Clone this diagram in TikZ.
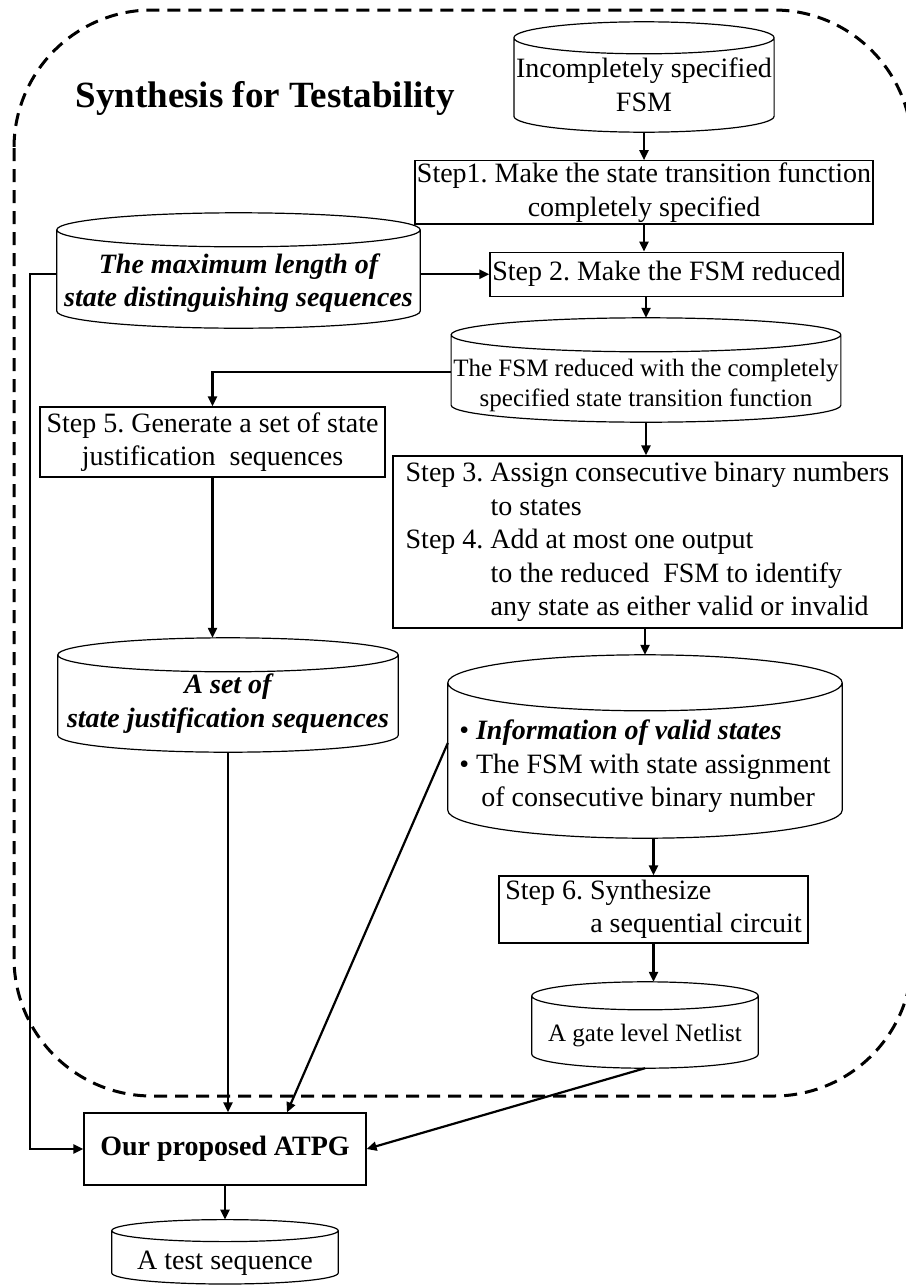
\documentclass[tikz,border=0pt]{standalone}
\usepackage{fontspec}
\setmainfont{Liberation Serif}
\usetikzlibrary{arrows.meta, positioning, calc}
\frenchspacing
\newcommand{\bodysize}{\fontsize{28}{33.5}\selectfont}
\newcommand{\notesize}{\fontsize{25}{30}\selectfont}

\begin{document}
\begin{tikzpicture}[
        x=1pt, y=1pt,
        font=\bodysize,
        >={Triangle[length=10pt, width=9pt]},
        box/.style={draw, line width=1.2pt, inner sep=2pt, align=center},
        drum/.style={inner sep=2pt, align=center},
        link/.style={->, line width=2.2pt}
    ]
    \useasboundingbox (0,0) rectangle (905,-1285);

    % synthesis for testability region
    \draw[line width=3pt, dash pattern=on 13pt off 8pt, rounded corners=138pt] (14,-10) rectangle (912,-1096);
    \node[anchor=base west, font=\fontsize{37}{44}\selectfont\bfseries] (title) at (72,-107) {Synthesis for Testability};

    \node[drum, minimum width=258pt, minimum height=94pt] (isfsm) at (644,-85) {Incompletely specified\\FSM};
    \node[box, minimum width=458pt, minimum height=61pt, below=28pt of isfsm] (step1) {Step1. Make the state transition function\\completely specified};
    \node[box, minimum width=353pt, minimum height=44pt, below=27pt of step1, xshift=22.5pt] (step2) {Step 2. Make the FSM reduced};
    \node[drum, minimum width=363pt, minimum height=98pt, font=\bodysize\bfseries\itshape] (maxlen) at (238.5,-283) {The maximum length of\\state distinguishing sequences};
    \node[drum, minimum width=388pt, minimum height=87pt, font=\notesize] (redfsm) at (646,-385.5) {The FSM reduced with the completely\\specified state transition function};
    \node[box, minimum width=345pt, minimum height=70pt] (step5) at (212.5,-442) {Step 5. Generate a set of state\\justification~ sequences};
    \node[box, minimum width=509pt, minimum height=172pt, align=left] (step34) at (647.5,-542) {Step 3. Assign consecutive binary numbers\\\hspace*{85pt}to states\\Step 4. Add at most one output\\\hspace*{85pt}to the reduced~ FSM to identify\\\hspace*{85pt}any state as either valid or invalid};
    \node[drum, minimum width=340pt, minimum height=97pt, font=\bodysize\bfseries\itshape] (setjs) at (228,-703.5) {A set of\\state justification sequences};
    \node[drum, minimum width=394pt, minimum height=155pt, align=left] (info) at (645,-766.5) {• \textbf{\textit{Information of valid states}}\\• The FSM with state assignment\\\hspace*{22pt}of consecutive binary number};
    \node[box, minimum width=309pt, minimum height=67pt, align=left] (step6) at (653.5,-909.5) {Step 6. Synthesize\\\hspace*{85pt}a sequential circuit};
    \node[drum, minimum width=226pt, minimum height=72pt, font=\notesize] (netlist) at (645,-1036) {A gate level Netlist};

    % outside the region
    \node[box, minimum width=282pt, minimum height=72pt, font=\bodysize\bfseries] (atpg) at (225,-1149) {Our proposed ATPG};
    \node[drum, minimum width=226pt, minimum height=53pt, below=51pt of atpg] (testseq) {A test sequence};

    % cylinder outlines (drawn \dy above the text box)
    \foreach \nm/\rr/\dy in {isfsm/16/0, maxlen/17/4, redfsm/17/7, setjs/17/0, info/28/6, netlist/14/4, testseq/11/6} {
        \draw[line width=1.2pt] let \p1=(\nm.north west), \p2=(\nm.south east) in
            (\x1,\y1+\dy) -- (\x1,\y2+\rr+\dy) arc[start angle=180, end angle=360, x radius={(\x2-\x1)/2}, y radius=\rr pt]
            -- (\x2,\y1+\dy) arc[start angle=0, end angle=360, x radius={(\x2-\x1)/2}, y radius=\rr pt];
        \coordinate (\nm-top) at ($(\nm.north)+(0,\rr+\dy)$);
        \coordinate (\nm-bot) at ($(\nm.south)+(0,\dy)$);
    }

    \draw[link] (isfsm-bot) -- (isfsm-bot |- step1.north);
    \draw[link] (step1.south) -- (step1.south |- step2.north);
    \draw[link] (redfsm-top |- step2.south) -- (redfsm-top);
    \draw[link] (maxlen.east |- step2.west) -- (step2.west);
    \draw[link] (maxlen.west |- step2.west) -- ++(-27,0) |- (atpg.west);
    \draw[link] ([yshift=13.5pt]redfsm.west) -| (step5.north);
    \draw[link] (redfsm-bot) -- (redfsm-bot |- step34.north);
    \draw[link] (step5.south) -- (step5.south |- setjs-top);
    \draw[link] (info-top |- step34.south) -- (info-top);
    \draw[link] (step6.north |- info-bot) -- (step6.north);
    \draw[link] (step6.south) -- (step6.south |- netlist-top);
    \draw[link] (setjs-bot) -- (setjs-bot |- atpg.north);
    \draw[link] ([yshift=23.5pt]info.west) -- ([xshift=62pt]atpg.north);
    \draw[link] (netlist-bot) -- (atpg.east);
    \draw[link] (atpg.south) -- (testseq-top);
\end{tikzpicture}
\end{document}
